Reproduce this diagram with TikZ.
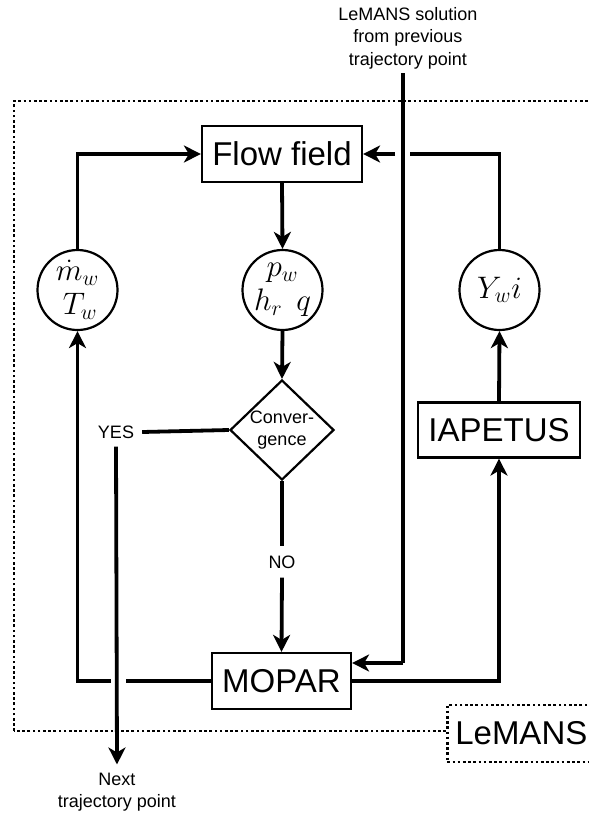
\documentclass[tikz,border=0pt]{standalone}
\usepackage{graphicx}
\usepackage{fontspec}
\setmainfont{Liberation Sans}
\usetikzlibrary{arrows.meta,shapes.geometric}
\newcommand{\ctx}[1]{\scalebox{1.5}{#1}}
\begin{document}
\begin{tikzpicture}[x=1pt,y=-1pt,
  conn/.style={line width=3.8pt},
  arr/.style={conn,-{Stealth[length=17pt,width=17pt,inset=5pt]}},
  box/.style={draw,line width=2.2pt,rectangle,inner sep=0pt,font=\fontsize{33}{40}\selectfont},
  circ/.style={draw,line width=2.2pt,circle,minimum size=80pt,inner sep=-8pt,align=center,font=\fontsize{20.74}{34}\selectfont},
  small/.style={font=\fontsize{18}{22.5}\selectfont,align=center,inner sep=0pt},
  dots/.style={line width=2.6pt,dash pattern=on 2.6pt off 2.6pt}]
\clip (0,0) rectangle (589,814);
% outer dotted frame
\draw[dots] (14,731) -- (14,101) -- (640,101) -- (640,731) -- cycle;
\node[dots,draw,fill=white,anchor=west,minimum height=57pt,inner xsep=8pt,inner ysep=0pt,
      font=\fontsize{33}{40}\selectfont] (lemans) at (446,733.5) {LeMANS\hspace{20pt}};
% nodes
\node[box,minimum width=160pt,minimum height=56pt] (flow) at (282,154) {Flow field};
\node[circ] (lcirc) at (77.5,290) {\ctx{$\dot m_w$}\\\ctx{$\,T_w$}};
\node[circ] (mcirc) at (282.5,290) {\ctx{$p_w$}\\\ctx{$h_r\;\, q$}};
\node[circ] (ycirc) at (499.5,290) {\ctx{$Y_w i$}};
\node[draw,line width=2.2pt,diamond,aspect=1.04,inner sep=0pt,minimum width=104pt,minimum height=100pt,
      font=\fontsize{18}{22}\selectfont,align=center] (conv) at (282,430) {Conver-\\gence};
\node[box,minimum width=162pt,minimum height=55pt] (iap) at (499,430) {IAPETUS};
\node[box,minimum width=139pt,minimum height=56pt] (mopar) at (281.5,681) {MOPAR};
\node[small] (yes) at (116,432) {YES};
\node[small] (no) at (282,562) {NO};
\node[small] (next) at (117,792) {Next\\trajectory point};
\node[small] (prev) at (408,38) {LeMANS solution\\from previous\\trajectory point};
% coordinates for jumps
\coordinate (jR) at (410,154);
\coordinate (jL) at (395,154);
\coordinate (gR) at (126,681);
\coordinate (gL) at (111,681);
\coordinate (lsx) at (403,663);
% connectors
\draw[conn] ([yshift=-4pt]prev.south -| lsx) -- (lsx);
\draw[arr] (lsx) -- (mopar.east |- lsx);
\draw[arr] (lcirc.north) |- (flow.west);
\draw[conn] (ycirc.north) |- (jR);
\draw[arr] (jL) -- (flow.east);
\draw[arr] (flow.south) -- (mcirc.north);
\draw[arr] (mcirc.south) -- (conv.north);
\draw[conn] (conv.west) -- ([xshift=8pt]yes.east);
\draw[arr] ([yshift=-8pt]yes.south) -- ([yshift=8pt]next.north);
\draw[conn] (conv.south) -- ([yshift=9pt]no.north);
\draw[arr] ([yshift=-9pt]no.south) -- (mopar.north);
\draw[arr] (mopar.east) -| (iap.south);
\draw[arr] (iap.north) -- (ycirc.south);
\draw[conn] (mopar.west) -- (gR);
\draw[arr] (gL) -| (lcirc.south);
\end{tikzpicture}
\end{document}
